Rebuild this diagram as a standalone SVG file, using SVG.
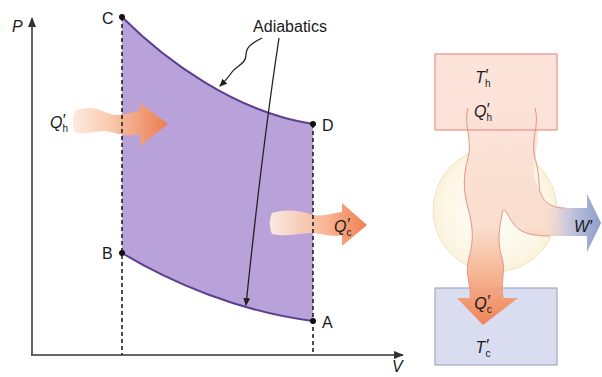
<svg xmlns="http://www.w3.org/2000/svg" width="602" height="377" viewBox="0 0 602 377">
<style>
.lbl{font-family:"Liberation Sans",Arial,sans-serif;font-size:16px;fill:#1a1a1a}
.it{font-family:"Liberation Sans",Arial,sans-serif;font-style:italic;font-size:16px;fill:#1a1a1a}
.sub{font-size:10px;font-style:normal}
.axis{stroke:#333;stroke-width:1.5;fill:none}
.dash{stroke:#222;stroke-width:1.6;stroke-dasharray:4 3;fill:none}
.curve{stroke:#5b3f91;stroke-width:2;fill:none}
.lead{stroke:#222;stroke-width:1.3;fill:none}
.dot{fill:#111}
.edge{stroke:#e39683;stroke-width:1;fill:none}
</style>
<defs>
<marker id="ah" markerWidth="8" markerHeight="8" refX="7" refY="4" orient="auto" markerUnits="userSpaceOnUse"><path d="M0,0.5 L8,4 L0,7.5 Z" fill="#222"/></marker>
<marker id="axh" markerWidth="10" markerHeight="10" refX="9" refY="5" orient="auto" markerUnits="userSpaceOnUse"><path d="M0,1 L10,5 L0,9 Z" fill="#333"/></marker>
<linearGradient id="gh" gradientUnits="userSpaceOnUse" x1="70" y1="0" x2="168" y2="0"><stop offset="0" stop-color="#fdece2"/><stop offset="0.4" stop-color="#f9c7ab"/><stop offset="1" stop-color="#f07a48"/></linearGradient>
<linearGradient id="gc" gradientUnits="userSpaceOnUse" x1="270" y1="0" x2="367" y2="0"><stop offset="0" stop-color="#fdece2"/><stop offset="0.4" stop-color="#f9c7ab"/><stop offset="1" stop-color="#f07a48"/></linearGradient>
<linearGradient id="gflow" gradientUnits="userSpaceOnUse" x1="0" y1="108" x2="0" y2="325"><stop offset="0" stop-color="#fbe3d8"/><stop offset="0.55" stop-color="#f9dccc"/><stop offset="0.75" stop-color="#f6b594"/><stop offset="1" stop-color="#ef7f50"/></linearGradient>
<linearGradient id="gw" gradientUnits="userSpaceOnUse" x1="540" y1="0" x2="601" y2="0"><stop offset="0" stop-color="#f9dccc" stop-opacity="0"/><stop offset="0.45" stop-color="#cac8de"/><stop offset="1" stop-color="#8a9dcb"/></linearGradient>
<radialGradient id="gcirc" cx="495" cy="210" r="62" gradientUnits="userSpaceOnUse"><stop offset="0" stop-color="#fefcf6"/><stop offset="0.8" stop-color="#fdf7e8"/><stop offset="1" stop-color="#fbf2dc"/></radialGradient>
</defs>

<g id="pv-region">
<path d="M122,17 C165,60 235,112 313,124 L313,321 C240,312 170,282 122,253 Z" fill="#b8a2d9"/>
<path class="curve" d="M122,17 C165,60 235,112 313,124"/>
<path class="curve" d="M122,253 C170,282 240,312 313,321"/>
</g>

<g id="Qh-arrow">
<path d="M75,111 C85,107 95,107 105,112 C115,117 125,115 140,110 L140,103 L168,124 L140,146 L140,134 C125,138 115,132 105,131 C95,130 85,136 75,132 C72,125 72,118 75,111 Z" fill="url(#gh)" opacity="0.95"/>
<text class="it" x="50" y="128">Q<tspan class="sub" dy="4">h</tspan><tspan dx="-6" dy="-6">′</tspan></text>
</g>
<g id="Qc-arrow">
<path d="M272,213 C285,209 298,210 310,214 C322,218 332,213 342,212 L342,203 L367,225 L342,246 L342,235 C330,238 320,232 308,233 C295,234 285,237 272,234 C269,227 269,220 272,213 Z" fill="url(#gc)" opacity="0.95"/>
<text class="it" x="334" y="232" font-size="15">Q<tspan class="sub" dy="4">c</tspan><tspan dx="-5" dy="-6">′</tspan></text>
</g>

<g id="connectors">
<line class="axis" x1="32" y1="355" x2="32" y2="18" marker-end="url(#axh)"/>
<line class="axis" x1="31" y1="355" x2="403" y2="355" marker-end="url(#axh)"/>
<line class="dash" x1="122" y1="17" x2="122" y2="355"/>
<line class="dash" x1="313" y1="124" x2="313" y2="355"/>
<path class="lead" d="M262,38 C250,44 246,48 246,55 C246,64 236,66 232,72 C228,78 226,80 220,86" marker-end="url(#ah)"/>
<path class="lead" d="M279,38 Q262,150 246,305" marker-end="url(#ah)"/>
</g>

<g id="points">
<circle class="dot" cx="122" cy="17" r="3"/>
<circle class="dot" cx="313" cy="124" r="3"/>
<circle class="dot" cx="122" cy="253" r="3"/>
<circle class="dot" cx="313" cy="321" r="3"/>
<text class="lbl" x="102" y="24">C</text>
<text class="lbl" x="322" y="131">D</text>
<text class="lbl" x="102" y="259">B</text>
<text class="lbl" x="322" y="328">A</text>
<text class="it" x="12" y="32">P</text>
<text class="it" x="392" y="372">V</text>
<text class="lbl" x="290" y="32" font-size="17.5" text-anchor="middle">Adiabatics</text>
</g>

<g id="engine">
<circle cx="495" cy="210" r="62" fill="url(#gcirc)" stroke="#ede4bd" stroke-width="1"/>
</g>
<g id="cold-reservoir">
<rect x="435" y="288" width="122" height="77" fill="#d9ddef" stroke="#a3a9c9" stroke-width="1.2"/>
</g>
<g id="hot-reservoir">
<rect x="435" y="54" width="122" height="76" fill="#fce3d9"/>
</g>
<g id="flow">
<path d="M468,108 C463,125 473,140 468,158 S463,190 468,208 S474,240 469,258 S472,285 470,298 L457,298 L483,325 L518,298 L503,298 C500,285 506,270 502,258 S498,232 502,215 C504,200 508,222 520,230 C528,235 540,236 550,236 L587,236 L587,252 L601,223 L587,194 L587,208 L565,208 C552,208 545,204 540,192 S532,176 535,158 S540,125 535,108 Z" fill="url(#gflow)" opacity="0.95"/>
<path d="M545,208 L587,208 L587,194 L601,223 L587,252 L587,236 L545,236 Z" fill="url(#gw)"/>
<path class="edge" d="M468,108 C463,125 473,140 468,158 S463,190 468,208 S474,240 469,258 S472,285 470,298"/>
<path class="edge" d="M503,298 C500,285 506,270 502,258 S498,232 502,215 C504,200 508,222 520,230 C528,235 540,236 550,236"/>
<path class="edge" d="M535,108 C540,125 530,140 535,158 S538,180 540,192 C545,204 552,208 565,208"/>
</g>
<g id="hot-outline">
<rect x="435" y="54" width="122" height="76" fill="none" stroke="#eb8f85" stroke-width="1.2"/>
<text class="it" x="483" y="83" font-size="15" text-anchor="middle">T<tspan class="sub" dy="4">h</tspan><tspan dx="-6" dy="-6">′</tspan></text>
<text class="it" x="483" y="117" font-size="15" text-anchor="middle">Q<tspan class="sub" dy="4">h</tspan><tspan dx="-6" dy="-6">′</tspan></text>
</g>
<g id="labels-right">
<text class="it" x="483" y="309" font-size="15" text-anchor="middle">Q<tspan class="sub" dy="4">c</tspan><tspan dx="-5" dy="-6">′</tspan></text>
<text class="it" x="483" y="353" font-size="15" text-anchor="middle">T<tspan class="sub" dy="4">c</tspan><tspan dx="-5" dy="-6">′</tspan></text>
<text class="it" x="583" y="232" font-size="15" text-anchor="middle">W′</text>
</g>
</svg>
